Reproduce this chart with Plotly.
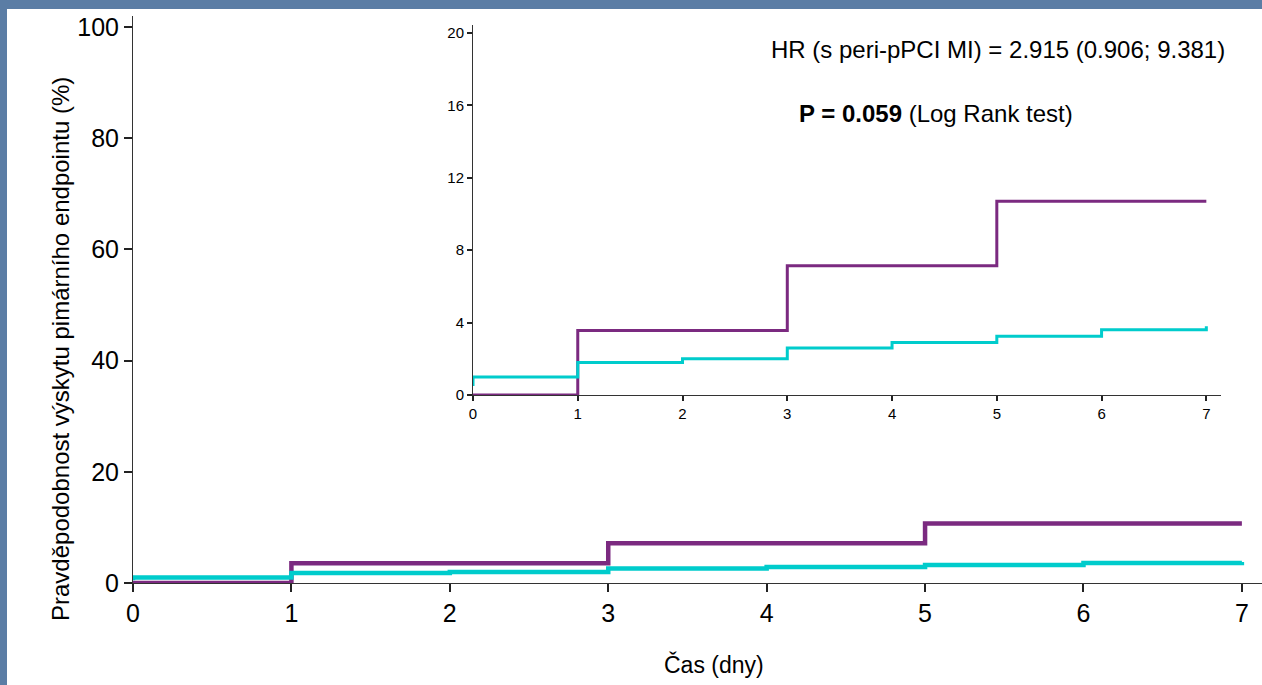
import plotly.graph_objects as go

# Data (cumulative incidence, %)
purple_t = [0, 1, 3, 5, 7]
purple_v = [0.0, 3.57, 7.14, 10.71, 10.71]
cyan_t = [0, 0, 1, 2, 3, 4, 5, 6, 7, 7]
cyan_v = [0.5, 1.0, 1.8, 2.0, 2.6, 2.9, 3.25, 3.6, 3.6, 3.8]

main_yticks = [0, 20, 40, 60, 80, 100]
main_xticks = [0, 1, 2, 3, 4, 5, 6, 7]
inset_yticks = [0, 4, 8, 12, 16, 20]
inset_xticks = [0, 1, 2, 3, 4, 5, 6, 7]

PURPLE = "#7B2A80"
CYAN = "#00CCCC"
FONT = "Arial, Liberation Sans, sans-serif"

W, H = 1262, 685
L, R, T, B = 133, 0, 16, 102
pw, ph = W - L - R, H - T - B


def px(x):
    return (x - L) / pw


def py(y):
    return (H - B - y) / ph


fig = go.Figure()

fig.add_trace(go.Scatter(x=purple_t, y=purple_v, mode="lines", line=dict(color=PURPLE, width=4.5, shape="hv"),
                         xaxis="x", yaxis="y", showlegend=False))
fig.add_trace(go.Scatter(x=cyan_t, y=cyan_v, mode="lines", line=dict(color=CYAN, width=4.5, shape="hv"),
                         xaxis="x", yaxis="y", showlegend=False))
fig.add_trace(go.Scatter(x=purple_t, y=purple_v, mode="lines", line=dict(color=PURPLE, width=3, shape="hv"),
                         xaxis="x2", yaxis="y2", showlegend=False))
fig.add_trace(go.Scatter(x=cyan_t, y=cyan_v, mode="lines", line=dict(color=CYAN, width=3, shape="hv"),
                         xaxis="x2", yaxis="y2", showlegend=False))

axis_common = dict(showgrid=False, zeroline=False, showline=True, linecolor="#333333", linewidth=1,
                   ticks="outside", tickcolor="#222222", tickwidth=1.5)

fig.update_layout(
    width=W, height=H,
    margin=dict(l=L, r=R, t=T, b=B),
    paper_bgcolor="#5B7DA5",
    plot_bgcolor="white",
    font=dict(family=FONT, color="black"),
    xaxis=dict(range=[0, 7.127], tickvals=main_xticks, ticklen=8, tickfont=dict(size=25),
               domain=[0, 1], **axis_common),
    yaxis=dict(range=[0, 102], tickvals=main_yticks, ticklen=8, tickfont=dict(size=25),
               domain=[0, 1], **axis_common),
    xaxis2=dict(range=[0, 7.14], tickvals=inset_xticks, ticklen=5, tickfont=dict(size=15),
                domain=[px(473), px(1221)], anchor="y2", **axis_common),
    yaxis2=dict(range=[0, 20.44], tickvals=inset_yticks, ticklen=5, tickfont=dict(size=15),
                domain=[py(395), py(25)], anchor="x2", **axis_common),
    shapes=[dict(type="rect", xref="paper", yref="paper", x0=px(7), x1=px(W + 5), y0=py(H + 5), y1=py(9),
                 fillcolor="white", line=dict(width=0), layer="below")],
    annotations=[
        dict(text="HR (s peri-pPCI MI) = 2.915 (0.906; 9.381)", xref="paper", yref="paper",
             x=px(1227), y=py(49), xanchor="right", yanchor="middle", showarrow=False,
             font=dict(size=24, family=FONT, color="black")),
        dict(text="<b>P = 0.059</b> (Log Rank test)", xref="paper", yref="paper",
             x=px(797), y=py(113), xanchor="left", yanchor="middle", showarrow=False,
             font=dict(size=24, family=FONT, color="black")),
        dict(text="Pravděpodobnost výskytu pimárního endpointu (%)", xref="paper", yref="paper",
             x=px(60), y=py(349), xanchor="center", yanchor="middle", textangle=-90, showarrow=False,
             font=dict(size=24, family=FONT, color="black")),
        dict(text="Čas (dny)", xref="paper", yref="paper",
             x=px(714), y=py(665), xanchor="center", yanchor="middle", showarrow=False,
             font=dict(size=23, family=FONT, color="black")),
    ],
)

fig.write_html("out.html", config={"displayModeBar": False},
               post_script="document.body.style.margin='0';document.body.style.padding='0';")
